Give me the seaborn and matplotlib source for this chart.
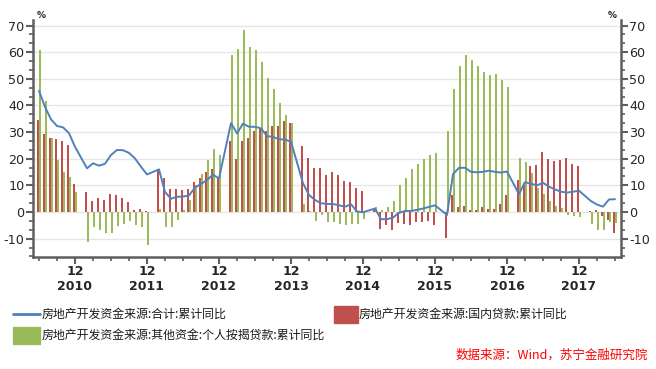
import numpy as np
import pandas as pd
import seaborn as sns
import matplotlib.pyplot as plt
from matplotlib.lines import Line2D
from matplotlib.patches import Rectangle
from matplotlib.ticker import FixedLocator, AutoMinorLocator
import matplotlib.transforms as mtransforms

# Monthly data, Jun 2010 - Jun 2018 (no January releases)
months = [d for d in pd.date_range('2010-06-01', '2018-06-01', freq='MS') if d.month != 1]

# 房地产开发资金来源:合计:累计同比
total = [45.5, 39.5, 34.8, 32.3, 31.8, 29.6, 24.5,
         16.4, 18.3, 17.4, 18.1, 21.4, 23.3, 23.2, 22.2, 20.1, 17.0, 14.1,
         16.0, 7.5, 5.0, 5.7, 5.8, 6.2, 9.2, 10.5, 12.0, 14.0, 12.6,
         33.4, 29.5, 33.2, 32.0, 32.0, 31.4, 28.5, 28.2, 27.3, 27.2, 26.4,
         10.8, 6.4, 4.5, 3.3, 3.0, 3.0, 2.5, 2.0, 2.9, 0.2, -0.1,
         1.3, -2.7, -2.7, -2.1, -0.3, 0.4, 0.4, 0.8, 1.3, 1.9, 2.5,
         -1.1, 14.2, 16.6, 16.6, 15.1, 14.9, 15.1, 15.5, 15.1, 14.8, 15.2,
         6.7, 11.2, 10.6, 10.0, 11.0, 9.5, 8.5, 7.6, 7.3, 7.6, 8.0,
         4.1, 2.8, 2.0, 4.7, 4.8]

# 房地产开发资金来源:国内贷款:累计同比
domestic_loans = [34.5, 29.2, 27.8, 27.4, 26.6, 25.1, 10.5,
                  7.5, 4.1, 5.1, 4.5, 6.9, 6.5, 5.2, 3.8, 0.8, 1.1, 0.2,
                  16.0, 12.8, 8.6, 8.6, 8.3, 8.6, 11.3, 12.8, 15.0, 16.1, 12.7,
                  26.6, 19.8, 26.6, 27.8, 30.4, 31.3, 30.4, 32.3, 32.3, 34.1, 33.3,
                  24.8, 20.3, 16.5, 16.5, 13.9, 15.0, 13.9, 11.6, 11.3, 9.0, 8.0,
                  0.8, -6.3, -4.8, -6.6, -4.0, -4.4, -4.8, -3.6, -3.6, -3.3, -4.8,
                  -9.6, 6.4, 1.9, 2.3, 0.8, 0.8, 1.9, 1.1, 1.1, 3.0, 6.4,
                  11.9, 10.9, 17.1, 17.5, 22.4, 20.0, 19.3, 19.6, 20.4, 18.1, 17.3,
                  0.4, 0.7, -1.4, -2.9, -7.8]

# 房地产开发资金来源:其他资金:个人按揭贷款:累计同比
mortgage = [60.8, 41.6, 27.8, 19.5, 15.0, 13.1, 7.5,
            -11.1, -5.5, -6.8, -7.8, -7.8, -5.1, -4.4, -3.4, -4.8, -5.5, -12.3,
            1.1, -5.5, -5.5, -3.0, 0.8, 4.5, 10.1, 14.3, 19.5, 23.6, 21.4,
            59.0, 61.1, 68.3, 61.9, 60.8, 56.3, 50.3, 46.1, 40.9, 36.4, 33.3,
            3.0, 0.3, -3.3, -1.1, -3.6, -3.6, -4.4, -4.8, -4.4, -4.4, -2.6,
            1.8, 0.8, 1.9, 4.1, 10.1, 12.8, 16.1, 18.0, 19.9, 21.4, 22.1,
            30.4, 46.1, 54.8, 58.9, 57.0, 54.8, 52.5, 51.4, 51.8, 49.5, 46.9,
            20.4, 18.9, 14.8, 8.9, 6.9, 4.3, 2.4, 1.4, -1.0, -1.4, -2.0,
            -4.4, -6.6, -6.6, -3.6, -4.0]

years = ['2010', '2011', '2012', '2013', '2014', '2015', '2016', '2017']

name_total = '房地产开发资金来源:合计:累计同比'
name_loans = '房地产开发资金来源:国内贷款:累计同比'
name_mort = '房地产开发资金来源:其他资金:个人按揭贷款:累计同比'

c_line, c_red, c_green = '#4F81BD', '#C0504D', '#9BBB59'

# month position: Jun 2010 = 0
pos = [(d.year - 2010) * 12 + d.month - 6 for d in months]

bars = pd.DataFrame({
    'pos': pos * 2,
    'value': domestic_loans + mortgage,
    'series': [name_loans] * len(pos) + [name_mort] * len(pos),
})
line = pd.DataFrame({'pos': pos, 'value': total})

sns.set_theme(style='white')
plt.rcParams['font.family'] = ['DejaVu Sans', 'Noto Sans CJK SC']
plt.rcParams['axes.unicode_minus'] = False
cjk = ['Noto Sans CJK SC', 'DejaVu Sans']

fig = plt.figure(figsize=(6.56, 3.69), dpi=100)
W, H = 656, 369
ax = fig.add_axes([33 / W, 1 - 257 / H, (621 - 33) / W, (257 - 20) / H])

sns.barplot(data=bars, x='pos', y='value', hue='series',
            hue_order=[name_loans, name_mort], palette=[c_red, c_green],
            native_scale=True, dodge=True, width=0.8, errorbar=None,
            saturation=1, linewidth=0, legend=False, ax=ax)
sns.lineplot(data=line, x='pos', y='value', color=c_line, linewidth=1.4, ax=ax)

ax.set_xlim(-1, 97)
ax.set_ylim(-16.9, 72.1)
ax.set_xlabel('')
ax.set_ylabel('')

# axes styling
ax.set_axisbelow(True)
ax.yaxis.set_major_locator(FixedLocator(range(-10, 80, 10)))
ax.yaxis.set_minor_locator(AutoMinorLocator(3))
ax.grid(axis='y', which='major', color='#E6E6E6', linewidth=1)
ax.grid(axis='x', visible=False)
for side in ['left', 'right', 'bottom']:
    ax.spines[side].set_visible(True)
    ax.spines[side].set_color('#5F5F5F')
    ax.spines[side].set_linewidth(1.8)
ax.spines['top'].set_visible(False)

dec_pos = [6 + 12 * i for i in range(len(years))]
minor_pos = [p for p in range(0, 97, 3) if p not in dec_pos]
ax.set_xticks(dec_pos)
ax.set_xticklabels(['12'] * len(dec_pos), fontweight='bold', fontsize=9)
ax.xaxis.set_minor_locator(FixedLocator(minor_pos))
ax.tick_params(axis='x', which='major', direction='out', length=5, width=1.5,
               color='#5F5F5F', pad=1, bottom=True)
ax.tick_params(axis='x', which='minor', direction='out', length=3, width=1.2,
               color='#5F5F5F', bottom=True)
ax.tick_params(axis='y', which='both', left=True, right=True,
               labelleft=True, labelright=True, direction='out',
               color='#5F5F5F', labelsize=9.2, pad=1)
ax.tick_params(axis='y', which='major', length=5, width=1.5)
ax.tick_params(axis='y', which='minor', length=3, width=1.2)

trans = mtransforms.blended_transform_factory(ax.transData, ax.transAxes)
for p, y in zip(dec_pos, years):
    ax.text(p, -30 / 237, y, transform=trans, ha='center', va='center',
            fontsize=9, fontweight='bold')

ax.text(0.007, 1.0, '%', transform=ax.transAxes, fontsize=6.5,
        fontweight='bold', ha='left', va='bottom')
ax.text(0.993, 1.0, '%', transform=ax.transAxes, fontsize=6.5,
        fontweight='bold', ha='right', va='bottom')

# legend (drawn in figure pixels)
def fx(x):
    return x / W

def fy(y):
    return 1 - y / H

fig.add_artist(Line2D([fx(13), fx(40)], [fy(314), fy(314)], color=c_line, linewidth=2))
fig.text(fx(42), fy(314), name_total, fontsize=8.6, va='center', family=cjk, color='#1A1A1A')
fig.add_artist(Rectangle((fx(334), fy(323)), fx(24), 17 / H, color=c_red))
fig.text(fx(359), fy(314), name_loans, fontsize=8.6, va='center', family=cjk, color='#1A1A1A')
fig.add_artist(Rectangle((fx(13), fy(344)), fx(27), 17 / H, color=c_green))
fig.text(fx(42), fy(335), name_mort, fontsize=8.6, va='center', family=cjk, color='#1A1A1A')

fig.text(fx(648), fy(355), '数据来源：Wind，苏宁金融研究院', fontsize=9, ha='right',
         va='center', family=cjk, color='#FF0000', style='italic')

fig.savefig('out.png', dpi=100)
